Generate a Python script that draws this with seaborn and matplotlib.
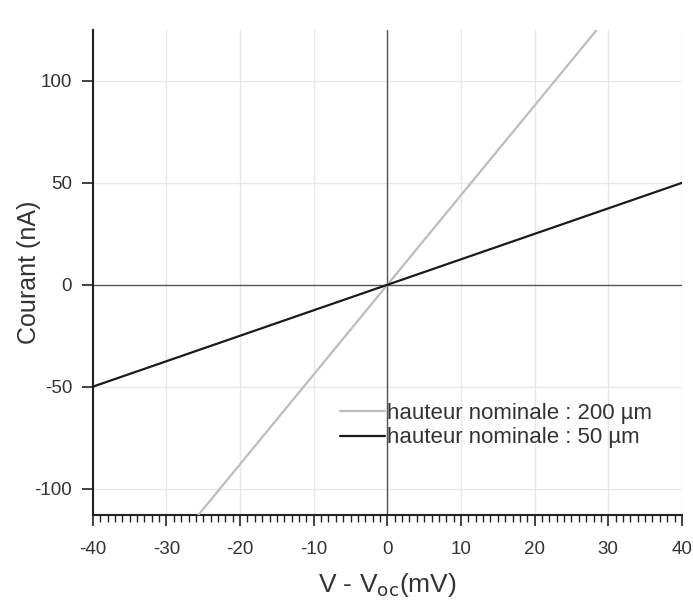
import numpy as np
import pandas as pd
import matplotlib
matplotlib.use("Agg")
import matplotlib.pyplot as plt
import seaborn as sns
from matplotlib.ticker import MultipleLocator

# Données
tension_mv = [-40, -30, -20, -10, 0, 10, 20, 30, 40]
courant_50um = [-50.0, -37.5, -25.0, -12.5, 0.0, 12.5, 25.0, 37.5, 50.0]
courant_200um = [-176.0, -132.0, -88.0, -44.0, 0.0, 44.0, 88.0, 132.0, 176.0]

sns.set_style("white")
plt.rcParams['font.family'] = ['Liberation Sans', 'DejaVu Sans']
plt.rcParams['axes.unicode_minus'] = False

data = pd.DataFrame({
    "V": tension_mv * 2,
    "I": courant_200um + courant_50um,
    "serie": ["hauteur nominale : 200 µm"] * len(tension_mv)
             + ["hauteur nominale : 50 µm"] * len(tension_mv),
})

fig = plt.figure(figsize=(6.93, 6.01), dpi=100)
ax = fig.add_axes([0.134, 0.143, 0.850, 0.807])

# grille légère
for xv in range(-40, 41, 10):
    ax.axvline(xv, color="#e8e8e8", linewidth=1.0, zorder=0)
for yv in [-100, -50, 50, 100]:
    ax.axhline(yv, color="#e8e8e8", linewidth=1.0, zorder=0)
ax.axvline(0, color="#555555", linewidth=1.0, zorder=1)
ax.axhline(0, color="#555555", linewidth=1.0, zorder=1)

sns.lineplot(data=data, x="V", y="I", hue="serie",
             palette=["#bdbdbd", "#1a1a1a"], linewidth=1.6, ax=ax, zorder=3)

ax.set_xlim(-40, 40)
ax.set_ylim(-113, 125)
ax.xaxis.set_major_locator(MultipleLocator(10))
ax.xaxis.set_minor_locator(MultipleLocator(1))
ax.yaxis.set_major_locator(MultipleLocator(50))

for s in ["top", "right"]:
    ax.spines[s].set_visible(False)
for s in ["left", "bottom"]:
    ax.spines[s].set_color("#222222")
    ax.spines[s].set_linewidth(1.5)

ax.tick_params(axis="both", which="both", bottom=True, left=True)
ax.tick_params(axis="both", which="major", direction="out", length=8,
               width=1.2, color="#222222", labelsize=13.5, labelcolor="#333333")
ax.tick_params(axis="x", which="minor", direction="out", length=5,
               width=1.0, color="#222222")
ax.tick_params(axis="y", which="minor", left=False)
ax.tick_params(axis="x", pad=11)
ax.tick_params(axis="y", pad=7)

ax.set_xlabel("V - V$_{\\mathrm{oc}}$(mV)", fontsize=19, color="#333333")
ax.set_ylabel("Courant (nA)", fontsize=18, color="#333333")
ax.xaxis.set_label_coords(0.5, -0.115)
ax.yaxis.set_label_coords(-0.088, 0.5)

leg = ax.legend(loc="center left", bbox_to_anchor=(0.42, 0.184), frameon=False,
                fontsize=16, handlelength=2.0, handletextpad=0.1,
                labelspacing=0.15, borderaxespad=0, borderpad=0)
for t in leg.get_texts():
    t.set_color("#333333")

plt.savefig("out.png", dpi=100)
plt.close()
